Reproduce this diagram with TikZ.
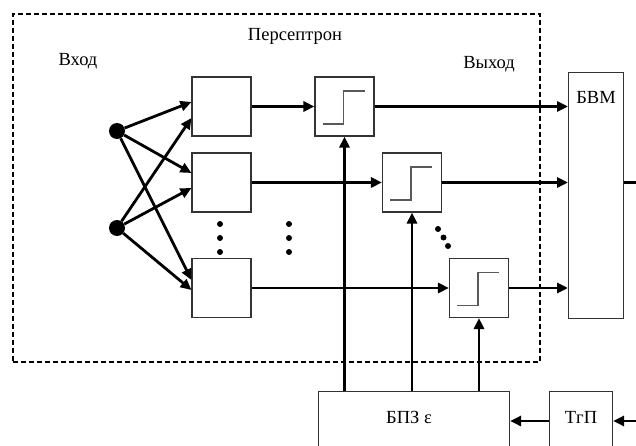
\documentclass[tikz,border=0pt]{standalone}
\usepackage{fontspec}
\setmainfont{Liberation Serif}
\usetikzlibrary{arrows.meta,calc}
\begin{document}
\begin{tikzpicture}[x=1pt,y=-1pt,
  every node/.style={font=\fontsize{18.5}{21}\selectfont},
  blk/.style={draw=black!80,line width=1.1pt,fill=white,minimum width=59pt,minimum height=59pt,inner sep=0pt},
  thr/.style={blk,path picture={\draw[black!65,line width=1.3pt]
     ([shift={(-22,17.5)}]path picture bounding box.center) -- ++(21,0) -- ++(0,-33) -- ++(21,0);}},
  big/.style={draw=black!80,line width=1.1pt,fill=white,inner sep=0pt},
  inp/.style={circle,fill=black,minimum size=16pt,inner sep=0pt},
  dt/.style={circle,fill=black,minimum size=6pt,inner sep=0pt},
  arr/.style={line width=2.8pt,-{Triangle[length=11pt,width=10pt]}},
  ln/.style={line width=2.8pt},
  frame/.style={draw,dashed,line width=1.9pt,dash pattern=on 5pt off 3pt,minimum width=527pt,minimum height=348pt,inner sep=0pt}
]
\useasboundingbox (0,0) rectangle (636,446);
% dashed perceptron frame
\node[frame,anchor=north west] (perc) at (12,13) {};
% labels
\node (lperc) at (295,36) {Персептрон};
\node (lin) at (78,61) {Вход};
\node (lout) at (489,64) {Выход};
% first-layer boxes
\node[blk] (a1) at (221.5,106.5) {};
\node[blk] (a2) at (221.5,182.5) {};
\node[blk] (a3) at (221.5,288) {};
% threshold boxes
\node[thr] (t1) at (344.5,106.5) {};
\node[thr] (t2) at (412,182.5) {};
\node[thr] (t3) at (479,288) {};
% inputs
\node[inp] (i1) at (117,131) {};
\node[inp] (i2) at (117,228) {};
% ellipsis dots
\node[dt] (d11) at (220,224) {};
\node[dt] (d12) at (220,238) {};
\node[dt] (d13) at (220,252) {};
\node[dt] (d21) at (289,224) {};
\node[dt] (d22) at (289,238) {};
\node[dt] (d23) at (289,252) {};
\node[dt] (d31) at (438,229) {};
\node[dt] (d32) at (443.5,237.5) {};
\node[dt] (d33) at (448,246) {};
% BVM
\node[big,minimum width=55pt,minimum height=246pt,anchor=north west] (bvm) at (568,72) {};
\node (lbvm) at (596,97) {БВМ};
% BPZ and TgP
\node[big,minimum width=191pt,minimum height=70pt,anchor=north west] (bpz) at (318,391) {};
\node (lbpz) at (409,417) {БПЗ ε};
\node[big,minimum width=63pt,minimum height=70pt,anchor=north west] (tgp) at (549,391) {};
\node (ltgp) at (581,417) {ТгП};
\coordinate (outp) at (636,182.5);
\coordinate (inp) at (636,421);
% input connections
\draw[arr] (i1) -- ([yshift=4.5pt]a1.west);
\draw[arr] (i1) -- ([yshift=9.5pt]a2.west);
\draw[arr] (i1) -- ([yshift=8pt]a3.west);
\draw[arr] (i2) -- ([yshift=-11.5pt]a1.west);
\draw[arr] (i2) -- ([yshift=-5.5pt]a2.west);
\draw[arr] (i2) -- ([yshift=-2pt]a3.west);
% BPZ to thresholds
\draw[arr] (bpz.north -| t1.south) -- (t1.south);
\draw[arr] (bpz.north -| t2.south) -- (t2.south);
\draw[arr] (bpz.north -| t3.south) -- (t3.south);
% layer to thresholds
\draw[arr] (a1) -- (t1);
\draw[arr] (a2) -- (t2);
\draw[arr] (a3) -- (t3);
% thresholds to BVM
\draw[arr] (t1) -- (t1 -| bvm.west);
\draw[arr] (t2) -- (t2 -| bvm.west);
\draw[arr] (t3) -- (t3 -| bvm.west);
% BVM output
\draw[ln] (outp -| bvm.east) -- (outp);
% TgP chain
\draw[arr] (inp) -- (inp -| tgp.east);
\draw[arr] (tgp.west |- inp) -- (bpz.east |- inp);
\end{tikzpicture}
\end{document}
